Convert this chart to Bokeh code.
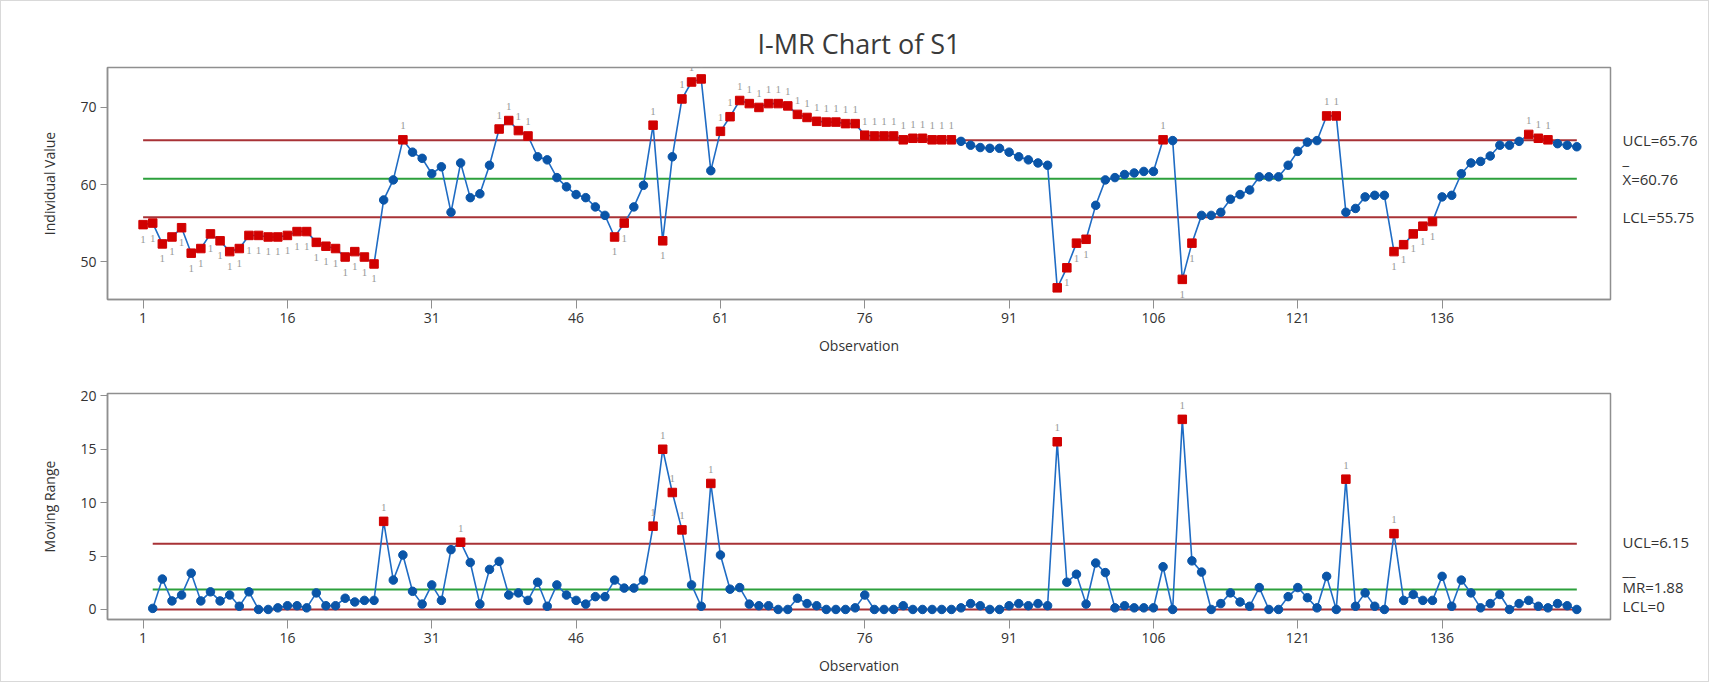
from bokeh.plotting import figure
from bokeh.models import Range1d, FixedTicker, ColumnDataSource, LabelSet
from bokeh.layouts import column, row
from bokeh.core.properties import value
from bokeh.embed import file_html
from bokeh.resources import INLINE

FONT = "Open Sans"

title_text = "I-MR Chart of S1"
obs = list(range(1, 151))
individual = [
    54.8, 55.0, 52.3, 53.2, 54.4, 51.1, 51.7, 53.6, 52.7, 51.3,
    51.7, 53.4, 53.4, 53.2, 53.2, 53.4, 53.9, 53.9, 52.5, 52.0,
    51.7, 50.6, 51.3, 50.6, 49.7, 58.0, 60.6, 65.8, 64.2, 63.4,
    61.4, 62.3, 56.4, 62.8, 58.3, 58.8, 62.5, 67.2, 68.3, 67.0,
    66.3, 63.6, 63.2, 60.9, 59.7, 58.7, 58.3, 57.1, 56.0, 53.2,
    55.0, 57.1, 59.9, 67.7, 52.7, 63.6, 71.1, 73.3, 73.7, 61.8,
    66.9, 68.8, 70.9, 70.5, 70.0, 70.5, 70.5, 70.2, 69.1, 68.7,
    68.2, 68.1, 68.1, 67.9, 67.9, 66.4, 66.3, 66.3, 66.3, 65.8,
    66.0, 66.0, 65.8, 65.8, 65.8, 65.6, 65.1, 64.8, 64.7, 64.7,
    64.2, 63.6, 63.2, 62.8, 62.5, 46.6, 49.2, 52.4, 52.9, 57.3,
    60.6, 60.9, 61.3, 61.5, 61.7, 61.7, 65.8, 65.7, 47.7, 52.4,
    56.0, 56.0, 56.4, 58.1, 58.7, 59.3, 61.0, 61.0, 61.0, 62.5,
    64.3, 65.5, 65.7, 68.9, 68.9, 56.4, 56.9, 58.4, 58.6, 58.6,
    51.3, 52.2, 53.6, 54.6, 55.2, 58.4, 58.6, 61.4, 62.8, 63.0,
    63.7, 65.1, 65.1, 65.6, 66.5, 66.0, 65.8, 65.3, 65.1, 64.9,
]
mr_obs = list(range(2, 151))
moving_range = [
    0.1, 2.85, 0.8, 1.35, 3.4, 0.8, 1.65, 0.8, 1.35,
    0.3, 1.65, 0.0, 0.0, 0.15, 0.35, 0.35, 0.15, 1.55, 0.35,
    0.35, 1.05, 0.7, 0.85, 0.85, 8.25, 2.75, 5.1, 1.7, 0.5,
    2.3, 0.85, 5.6, 6.3, 4.4, 0.5, 3.75, 4.5, 1.35, 1.55,
    0.85, 2.55, 0.3, 2.3, 1.35, 0.85, 0.5, 1.2, 1.2, 2.75,
    2.0, 2.0, 2.75, 7.8, 15.0, 10.95, 7.45, 2.3, 0.3, 11.8,
    5.1, 1.9, 2.05, 0.5, 0.35, 0.35, 0.0, 0.0, 1.05, 0.55,
    0.35, 0.0, 0.0, 0.0, 0.15, 1.35, 0.0, 0.0, 0.0, 0.35,
    0.0, 0.0, 0.0, 0.0, 0.0, 0.15, 0.55, 0.35, 0.0, 0.0,
    0.35, 0.55, 0.35, 0.55, 0.35, 15.7, 2.55, 3.3, 0.5, 4.35,
    3.45, 0.15, 0.35, 0.15, 0.15, 0.15, 4.0, 0.0, 17.8, 4.55,
    3.5, 0.0, 0.55, 1.55, 0.7, 0.3, 2.05, 0.0, 0.0, 1.2,
    2.05, 1.1, 0.15, 3.1, 0.0, 12.2, 0.3, 1.55, 0.3, 0.0,
    7.1, 0.85, 1.4, 0.85, 0.85, 3.1, 0.3, 2.75, 1.55, 0.15,
    0.55, 1.4, 0.0, 0.55, 0.85, 0.3, 0.15, 0.55, 0.35, 0.0,
]
i_flagged = (list(range(1, 26)) + [28, 38, 39, 40, 41, 50, 51, 54, 55, 57, 58, 59]
             + list(range(61, 86)) + [96, 97, 98, 99, 107, 109, 110, 124, 125,
                                      131, 132, 133, 134, 135, 145, 146, 147])
mr_flagged = [26, 34, 54, 55, 56, 57, 60, 96, 109, 126, 131]

i_ucl, i_cl, i_lcl = 65.76, 60.76, 55.75
mr_ucl, mr_cl, mr_lcl = 6.15, 1.88, 0.0
x_ticks = [1, 16, 31, 46, 61, 76, 91, 106, 121, 136]
i_yticks = [50, 60, 70]
mr_yticks = [0, 5, 10, 15, 20]

LINE_BLUE = "#1f6cc4"
PT_BLUE = "#0a55a8"
PT_RED = "#d10000"
LIM_RED = "#a83236"
CL_GREEN = "#2ca03c"
TXT = "#333333"
FRAME = "#8f8f8f"

MAIN_W = 1611
SIDE_W = 96


def base_fig(height, yr, yticks, mbt, mbb, ylabel):
    p = figure(width=MAIN_W, height=height, x_range=Range1d(-2.7, 153.5), y_range=yr,
               output_backend="svg", toolbar_location=None,
               min_border_left=106, min_border_right=2,
               min_border_top=mbt, min_border_bottom=mbb)
    p.xgrid.visible = False
    p.ygrid.visible = False
    p.outline_line_color = FRAME
    p.outline_line_width = 1.5
    for ax in (p.xaxis, p.yaxis):
        ax.axis_line_color = FRAME
        ax.axis_line_width = 1.5
        ax.major_tick_line_color = FRAME
        ax.major_tick_in = 0
        ax.minor_tick_line_color = None
        ax.major_label_text_font = FONT
        ax.major_label_text_font_size = "14px"
        ax.major_label_text_color = TXT
        ax.axis_label_text_font = FONT
        ax.axis_label_text_font_size = "14px"
        ax.axis_label_text_font_style = "normal"
        ax.axis_label_text_color = TXT
    p.xaxis.ticker = FixedTicker(ticks=x_ticks)
    p.xaxis.major_tick_out = 9
    p.xaxis.major_label_standoff = 4
    p.xaxis.axis_label = "Observation"
    p.xaxis.axis_label_standoff = 10
    p.yaxis.ticker = FixedTicker(ticks=yticks)
    p.yaxis.major_tick_out = 7
    p.yaxis.major_label_standoff = 4
    p.yaxis.axis_label = ylabel
    p.yaxis.axis_label_standoff = 18
    return p


def side_fig(height, yr, mbt, mbb):
    s = figure(width=SIDE_W, height=height, x_range=Range1d(0, SIDE_W), y_range=yr,
               output_backend="svg", toolbar_location=None,
               min_border_left=0, min_border_right=0,
               min_border_top=mbt, min_border_bottom=mbb)
    s.axis.visible = False
    s.grid.visible = False
    s.outline_line_color = None
    return s


def draw_series(p, xs, ys, flagged, ucl, cl, lcl, above_rule):
    x0, x1 = xs[0], xs[-1]
    p.line([x0, x1], [ucl, ucl], line_color=LIM_RED, line_width=2)
    p.line([x0, x1], [lcl, lcl], line_color=LIM_RED, line_width=2)
    p.line([x0, x1], [cl, cl], line_color=CL_GREEN, line_width=2)
    p.line(xs, ys, line_color=LINE_BLUE, line_width=1.6)
    fl = set(flagged)
    bx = [x for x in xs if x not in fl]
    by = [y for x, y in zip(xs, ys) if x not in fl]
    rx = [x for x in xs if x in fl]
    ry = [y for x, y in zip(xs, ys) if x in fl]
    p.scatter(bx, by, marker="circle", size=8.5, fill_color=PT_BLUE, line_color=PT_BLUE)
    p.scatter(rx, ry, marker="square", size=8.5, fill_color=PT_RED, line_color=PT_RED)
    up = [(x, y) for x, y in zip(rx, ry) if above_rule(y)]
    dn = [(x, y) for x, y in zip(rx, ry) if not above_rule(y)]
    for pts, off in ((up, 14), (dn, -15)):
        src = ColumnDataSource(dict(x=[a for a, b in pts], y=[b for a, b in pts],
                                    t=["1"] * len(pts)))
        p.add_layout(LabelSet(x="x", y="y", text="t", source=src, y_offset=off,
                              text_align="center", text_baseline="middle",
                              text_font=FONT, text_font_size="11px", text_color="#9a9a9a"))


def side_labels(s, items):
    for (yv, txt, yoff, base) in items:
        s.text(x=[10], y=[yv], text=[txt], y_offset=yoff, text_baseline=base,
               text_align="left", text_font=value(FONT), text_font_size="15px",
               text_color=TXT)


# ---- Individual chart ----
i_yr = Range1d(45.09, 75.18)
top = base_fig(364, i_yr, i_yticks, 66, 66, "Individual Value")
top.title.text = title_text
top.title.align = "center"
top.title.text_font = FONT
top.title.text_font_size = "27px"
top.title.text_font_style = "normal"
top.title.text_color = "#3a3a3a"
top.title.standoff = 12
draw_series(top, obs, individual, i_flagged, i_ucl, i_cl, i_lcl, lambda y: y > i_cl)
top_side = side_fig(364, i_yr, 66, 66)
side_labels(top_side, [(i_ucl, f"UCL={i_ucl:.2f}", 0, "middle"),
                       (i_cl, "_", -20, "alphabetic"),
                       (i_cl, f"X={i_cl:.2f}", 0, "middle"),
                       (i_lcl, f"LCL={i_lcl:.2f}", 0, "middle")])

# ---- Moving range chart ----
mr_yr = Range1d(-0.94, 20.22)
bot = base_fig(316, mr_yr, mr_yticks, 28, 62, "Moving Range")
draw_series(bot, mr_obs, moving_range, mr_flagged, mr_ucl, mr_cl, mr_lcl, lambda y: True)
bot_side = side_fig(316, mr_yr, 28, 62)
side_labels(bot_side, [(mr_ucl, f"UCL={mr_ucl:.2f}", -2, "middle"),
                       (mr_cl, "__", -19, "alphabetic"),
                       (mr_cl, f"MR={mr_cl:.2f}", -2, "middle"),
                       (mr_lcl, f"LCL={mr_lcl:g}", -3, "middle")])

layout = column(row(top, top_side, spacing=0), row(bot, bot_side, spacing=0), spacing=0,
                styles={"border": "1px solid #d9d9d9"})
open("out.html", "w").write(file_html(layout, INLINE))
